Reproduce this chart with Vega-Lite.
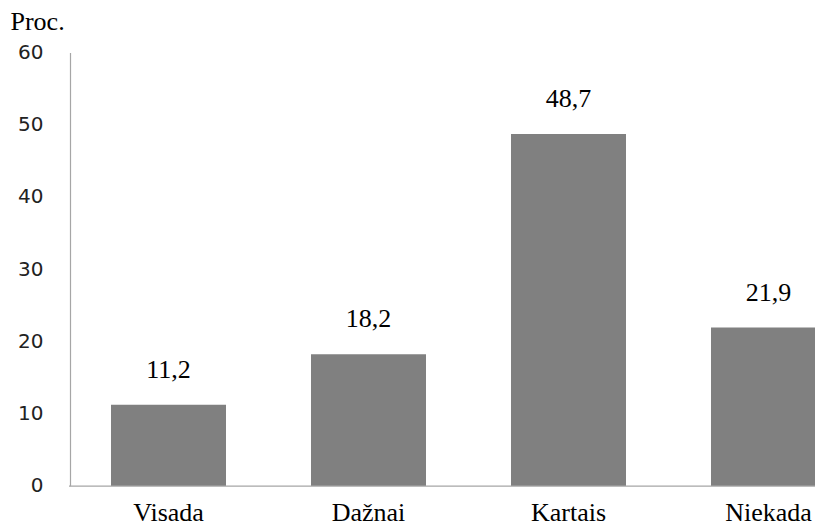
{
  "$schema": "https://vega.github.io/schema/vega-lite/v6.json",
  "autosize": {"type": "none"},
  "padding": {"left": 70, "top": 52.5, "right": 0, "bottom": 42.3},
  "width": 745,
  "height": 433.2,
  "background": "white",
  "data": {
    "values": [
      {"atsakymas": "Visada", "proc": 11.2},
      {"atsakymas": "Dažnai", "proc": 18.2},
      {"atsakymas": "Kartais", "proc": 48.7},
      {"atsakymas": "Niekada", "proc": 21.9}
    ]
  },
  "encoding": {
    "x": {
      "field": "atsakymas",
      "type": "nominal",
      "sort": null,
      "scale": {"range": [-1.5, 798.5], "paddingInner": 0.425, "paddingOuter": 0.2125},
      "axis": {
        "title": null,
        "labelAngle": 0,
        "labelFont": "Liberation Serif",
        "labelFontSize": 26,
        "labelColor": "black",
        "labelBaseline": "alphabetic",
        "labelPadding": 35,
        "ticks": false,
        "tickSize": 0,
        "domainColor": "#a6a6a6",
        "domainWidth": 1.2,
        "grid": false
      }
    },
    "y": {
      "field": "proc",
      "type": "quantitative",
      "scale": {"domain": [0, 60], "nice": false, "zero": true},
      "axis": {
        "values": [0, 10, 20, 30, 40, 50, 60],
        "title": "Proc.",
        "titleAngle": 0,
        "titleAlign": "left",
        "titleBaseline": "alphabetic",
        "titleX": -60,
        "titleY": -23,
        "titleFont": "Liberation Serif",
        "titleFontSize": 26,
        "titleFontWeight": "normal",
        "titleColor": "black",
        "labelFont": "DejaVu Sans",
        "labelFontSize": 20,
        "labelColor": "#222222",
        "labelPadding": 27,
        "ticks": false,
        "tickSize": 0,
        "domainColor": "#a6a6a6",
        "domainWidth": 1.2,
        "grid": false
      }
    }
  },
  "layer": [
    {
      "mark": {"type": "bar", "color": "#808080"}
    },
    {
      "mark": {
        "type": "text",
        "baseline": "alphabetic",
        "align": "center",
        "dy": -27,
        "font": "Liberation Serif",
        "fontSize": 26,
        "color": "black"
      },
      "encoding": {
        "text": {"field": "proc", "type": "quantitative", "format": ".1f"}
      }
    }
  ],
  "config": {
    "view": {"stroke": null},
    "locale": {
      "number": {
        "decimal": ",",
        "thousands": " ",
        "grouping": [3],
        "currency": ["", " €"]
      }
    }
  }
}
